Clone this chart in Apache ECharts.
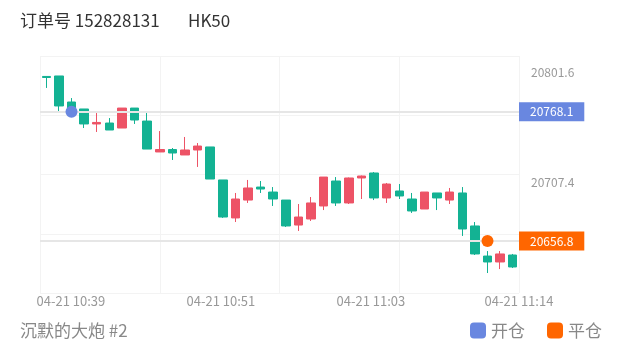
<!DOCTYPE html>
<html>
<head>
<meta charset="utf-8">
<script src="https://cdn.jsdelivr.net/npm/echarts@6/dist/echarts.min.js"></script>
<style>
  html, body { margin: 0; padding: 0; background: #fff; }
  #chart { width: 620px; height: 352px; }
</style>
</head>
<body>
<div id="chart"></div>
<script>
// 1分钟K线 10:37 ~ 11:14
var times = [];
for (var m = 37; m <= 74; m++) {
  var hh = 10 + Math.floor(m / 60), mm = m % 60;
  times.push('04-21 ' + hh + ':' + (mm < 10 ? '0' + mm : mm));
}

// [open, close, low, high]
var opens  = [20798.4, 20798.8, 20776.4, 20770.4, 20757.5, 20758.3, 20754.0, 20771.2, 20760.0, 20733.4,
              20735.5, 20730.8, 20735.1, 20737.7, 20709.3, 20676.6, 20692.0, 20703.2, 20698.9, 20692.0,
              20670.5, 20675.7, 20686.9, 20708.4, 20689.5, 20711.0, 20715.3, 20693.8, 20699.8, 20692.9,
              20684.3, 20698.1, 20692.0, 20698.1, 20669.7, 20643.8, 20638.7, 20644.7];
var closes = [20797.5, 20773.0, 20771.2, 20757.5, 20758.8, 20752.3, 20771.2, 20760.9, 20735.9, 20735.5,
              20732.5, 20735.1, 20738.5, 20710.1, 20677.4, 20692.9, 20702.4, 20701.5, 20692.9, 20669.7,
              20677.4, 20689.5, 20711.8, 20689.5, 20711.0, 20712.7, 20693.8, 20705.8, 20695.5, 20682.6,
              20698.9, 20693.8, 20698.9, 20667.1, 20645.6, 20638.7, 20645.6, 20634.4];
var lows   = [20788.5, 20767.8, 20770.4, 20754.0, 20750.6, 20752.3, 20754.0, 20757.5, 20735.9, 20733.4,
              20726.5, 20730.8, 20720.5, 20710.1, 20676.6, 20673.1, 20689.5, 20698.1, 20686.9, 20668.8,
              20665.4, 20674.0, 20683.4, 20686.9, 20688.6, 20692.9, 20692.0, 20689.5, 20692.9, 20680.9,
              20684.3, 20683.4, 20688.6, 20661.1, 20644.7, 20629.2, 20632.6, 20633.5];
var highs  = [20798.4, 20798.8, 20779.8, 20770.4, 20766.9, 20762.6, 20771.2, 20771.2, 20766.9, 20751.4,
              20736.8, 20746.3, 20741.1, 20737.7, 20709.3, 20698.1, 20709.3, 20708.4, 20703.2, 20692.0,
              20688.6, 20694.6, 20711.8, 20711.8, 20711.4, 20713.1, 20716.1, 20706.7, 20705.8, 20698.1,
              20698.9, 20698.1, 20702.4, 20703.2, 20673.1, 20648.1, 20648.1, 20645.6];

// 开仓 / 平仓
var openIndex = 2, openPrice = 20768.1;
var closeIndex = 35, closePrice = 20656.8;

// 坐标轴标签
var yLabelValues = [20801.6, 20707.4];
var xLabelPos = [1.95, 13.85, 25.75, 37.5];
var xLabels = ['04-21 10:39', '04-21 10:51', '04-21 11:03', '04-21 11:14'];

var kData = opens.map(function (o, i) {
  return [o, closes[i], lows[i], highs[i]];
});

var UP = '#ed5366', DOWN = '#13b293', BLUE = '#6987e0', ORANGE = '#ff6600';
var FONT = '"Noto Sans CJK SC", "Noto Sans", sans-serif';

var chart = echarts.init(document.getElementById('chart'));
chart.setOption({
  animation: false,
  textStyle: { fontFamily: FONT },
  title: [
    { text: '订单号 152828131', left: 20, top: 12, padding: 0,
      textStyle: { fontSize: 17, fontWeight: 'normal', color: '#333' } },
    { text: 'HK50', left: 188, top: 12, padding: 0,
      textStyle: { fontSize: 17, fontWeight: 'normal', color: '#333' } },
    { text: '沉默的大炮 #2', left: 20, top: 322, padding: 0,
      textStyle: { fontSize: 17, fontWeight: 'normal', color: '#888' } }
  ],
  legend: {
    right: 18, top: 322, padding: 0,
    icon: 'roundRect', itemWidth: 16, itemHeight: 16, itemGap: 22,
    textStyle: { fontSize: 17, color: '#888' },
    data: ['开仓', '平仓']
  },
  grid: { left: 40, right: 101, top: 56, bottom: 59 },
  xAxis: [
    { type: 'category', data: times, boundaryGap: true,
      axisLine: { show: false }, axisTick: { show: false }, axisLabel: { show: false },
      splitLine: { show: false } },
    { type: 'value', min: 0, max: 4, interval: 1, position: 'bottom',
      axisLine: { show: false }, axisTick: { show: false }, axisLabel: { show: false },
      splitLine: { show: true, lineStyle: { color: '#f3f3f3', width: 1 } } },
    { type: 'value', min: -0.5, max: 37.5, position: 'bottom',
      axisLine: { show: false }, axisTick: { show: false }, splitLine: { show: false },
      axisLabel: {
        customValues: xLabelPos, margin: 2, color: '#999', fontSize: 13,
        formatter: function (v) {
          var best = 0;
          xLabelPos.forEach(function (p, i) {
            if (Math.abs(p - v) < Math.abs(xLabelPos[best] - v)) best = i;
          });
          return xLabels[best];
        }
      } }
  ],
  yAxis: [
    { type: 'value', position: 'right', min: 20612, max: 20816, scale: true,
      axisLine: { show: false }, axisTick: { show: false }, splitLine: { show: false },
      axisLabel: {
        customValues: yLabelValues, margin: 12, color: '#999', fontSize: 12,
        formatter: function (v) { return v.toFixed(1); }
      } },
    { type: 'value', min: 0, max: 4, interval: 1,
      axisLine: { show: false }, axisTick: { show: false }, axisLabel: { show: false },
      splitLine: { show: true, lineStyle: { color: '#f3f3f3', width: 1 } } }
  ],
  series: [
    {
      type: 'candlestick',
      data: kData,
      barWidth: 9,
      itemStyle: { color: UP, color0: DOWN, borderColor: UP, borderColor0: DOWN },
      markLine: {
        silent: true, symbol: 'none',
        lineStyle: { color: '#e6e6e6', width: 2, type: 'solid' },
        label: {
          position: 'end', distance: 0, color: '#fff', fontSize: 12,
          padding: [3, 11, 2, 11], lineHeight: 14,
          formatter: function (p) { return p.value.toFixed(1); }
        },
        data: [
          { yAxis: openPrice, label: { backgroundColor: BLUE } },
          { yAxis: closePrice, label: { backgroundColor: ORANGE } }
        ]
      },
      z: 2
    },
    { name: '开仓', type: 'scatter', symbolSize: 12, itemStyle: { color: BLUE, opacity: 1 },
      data: [[openIndex, openPrice]], z: 5 },
    { name: '平仓', type: 'scatter', symbolSize: 12, itemStyle: { color: ORANGE, opacity: 1 },
      data: [[closeIndex, closePrice]], z: 5 }
  ]
});
</script>
</body>
</html>
